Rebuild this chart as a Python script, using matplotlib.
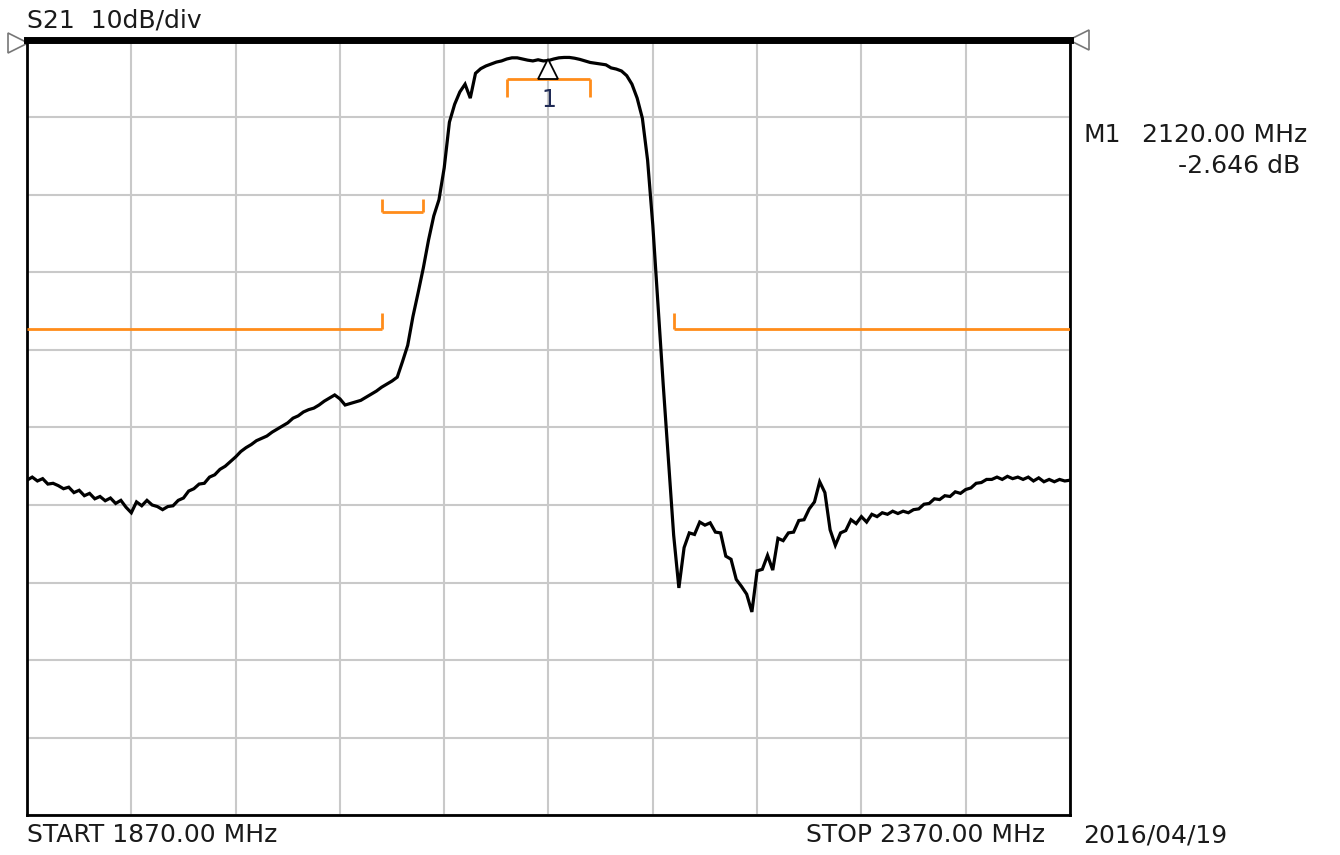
import numpy as np
import matplotlib
matplotlib.use("Agg")
import matplotlib.pyplot as plt
from matplotlib import transforms

# ---------------- data ----------------
f_start, f_stop = 1870.0, 2370.0
ref_top, db_per_div = 0.0, 10.0

freq = np.arange(1870.0, 2370.0 + 0.01, 2.5)
s21 = [
    -56.8, -56.4, -56.9, -56.6, -57.3, -57.2, -57.5, -57.9, -57.7, -58.4,    # 1870-1892.5
    -58.1, -58.8, -58.5, -59.2, -58.9, -59.45, -59.1, -59.8, -59.4, -60.3,   # 1895-1917.5
    -61.0, -59.6, -60.1, -59.4, -60.0, -60.2, -60.6, -60.2, -60.1, -59.4,    # 1920-1942.5
    -59.1, -58.2, -57.9, -57.3, -57.2, -56.4, -56.1, -55.4, -55.0, -54.4,    # 1945-1967.5
    -53.8, -53.1, -52.6, -52.2, -51.7, -51.4, -51.1, -50.6, -50.2, -49.8,    # 1970-1992.5
    -49.4, -48.8, -48.5, -48.0, -47.7, -47.5, -47.1, -46.6, -46.2, -45.8,    # 1995-2017.5
    -46.3, -47.1, -46.9, -46.7, -46.5, -46.1, -45.7, -45.3, -44.8, -44.4,    # 2020-2042.5
    -44.0, -43.5, -41.5, -39.4, -35.7, -32.6, -29.4, -25.8, -22.7, -20.6,    # 2045-2067.5
    -16.5, -10.6, -8.3, -6.7, -5.7, -7.5, -4.3, -3.7, -3.35, -3.1,           # 2070-2092.5
    -2.85, -2.7, -2.45, -2.3, -2.3, -2.45, -2.6, -2.7, -2.55, -2.7,          # 2095-2117.5
    -2.646, -2.45, -2.3, -2.25, -2.25, -2.35, -2.5, -2.7, -2.9, -3.0,        # 2120-2142.5
    -3.1, -3.2, -3.6, -3.75, -4.0, -4.6, -5.7, -7.5, -10.1, -15.5,           # 2145-2167.5
    -23.9, -34.2, -44.5, -54.2, -63.9, -70.7, -65.5, -63.6, -63.8, -62.2,    # 2170-2192.5
    -62.6, -62.3, -63.5, -63.6, -66.6, -67.0, -69.6, -70.5, -71.5, -73.8,    # 2195-2217.5
    -68.5, -68.3, -66.5, -68.4, -64.3, -64.6, -63.6, -63.5, -62.0, -61.9,    # 2220-2242.5
    -60.5, -59.6, -57.0, -58.4, -63.2, -65.2, -63.6, -63.3, -61.9, -62.4,    # 2245-2267.5
    -61.5, -62.2, -61.2, -61.5, -61.0, -61.2, -60.8, -61.1, -60.8, -61.0,    # 2270-2292.5
    -60.6, -60.5, -59.9, -59.8, -59.2, -59.3, -58.8, -58.9, -58.3, -58.5,    # 2295-2317.5
    -58.0, -57.8, -57.2, -57.1, -56.7, -56.7, -56.4, -56.7, -56.3, -56.6,    # 2320-2342.5
    -56.4, -56.7, -56.4, -56.9, -56.5, -57.0, -56.7, -57.0, -56.7, -56.9,    # 2345-2367.5
    -56.8,                                                                   # 2370
]

marker_freq = 2120.0
marker_db = -2.646

# limit lines: (f1, f2, level dB, tick end dB at f1, tick end dB at f2 or None)
lim_f1 = [1870.0, 2040.0, 2100.0, 2180.0]
lim_f2 = [2040.0, 2060.0, 2140.0, 2370.0]
lim_db = [-37.3, -22.2, -5.0, -37.3]
lim_tick_left = [None, -20.5, -7.3, -35.2]
lim_tick_right = [-35.2, -20.5, -7.3, None]

# ---------------- figure ----------------
W, H = 1340, 855
fig = plt.figure(figsize=(W / 100, H / 100), dpi=100)
fig.patch.set_facecolor("white")
ax = fig.add_axes([27 / W, 1 - 815 / H, (1070 - 27) / W, (815 - 40) / H])
ax.set_xlim(f_start, f_stop)
ax.set_ylim(ref_top - 10 * db_per_div, ref_top)
ax.set_xticks(np.linspace(f_start, f_stop, 11))
ax.set_yticks(np.linspace(ref_top - 10 * db_per_div, ref_top, 11))
ax.tick_params(length=0, labelbottom=False, labelleft=False)
ax.grid(True, color="#c9c9c9", linewidth=1.5)
ax.set_axisbelow(True)
for side in ["left", "right", "bottom"]:
    ax.spines[side].set_linewidth(2.0)
    ax.spines[side].set_color("black")
ax.spines["top"].set_linewidth(5.0)
ax.spines["top"].set_color("black")

orange = "#ff8c1a"
for f1, f2, lv, tl, tr in zip(lim_f1, lim_f2, lim_db, lim_tick_left, lim_tick_right):
    ax.plot([f1, f2], [lv, lv], color=orange, lw=2.0, solid_capstyle="butt", zorder=3)
    if tl is not None:
        ax.plot([f1, f1], [lv, tl], color=orange, lw=2.0, solid_capstyle="butt", zorder=3)
    if tr is not None:
        ax.plot([f2, f2], [lv, tr], color=orange, lw=2.0, solid_capstyle="butt", zorder=3)

ax.plot(freq, s21, color="black", lw=2.3, zorder=4, solid_joinstyle="miter")

# marker triangle, just below the trace point
tri_tr = transforms.offset_copy(ax.transData, fig=fig, x=0, y=-8, units="dots")
ax.plot([marker_freq], [marker_db], marker="^", markersize=14, markerfacecolor="white",
        markeredgecolor="black", markeredgewidth=1.3, transform=tri_tr, zorder=5)
lbl_tr = transforms.offset_copy(ax.transData, fig=fig, x=0, y=-39, units="dots")
ax.text(marker_freq, marker_db, "1", transform=lbl_tr, ha="center", va="center",
        fontsize=17, color="#1f2a55", zorder=5)

# reference level triangles at edges
ax.plot([-0.009], [0.996], marker=">", markersize=15, markerfacecolor="white",
        markeredgecolor="#777777", markeredgewidth=1.2, transform=ax.transAxes, clip_on=False)
ax.plot([1.0085], [1.0], marker="<", markersize=15, markerfacecolor="white",
        markeredgecolor="#777777", markeredgewidth=1.2, transform=ax.transAxes, clip_on=False)

txt = dict(fontsize=18, color="#1a1a1a", family="DejaVu Sans")
fig.text(27 / W, 1 - 21 / H, "S21  10dB/div", ha="left", va="center", **txt)
fig.text(1083 / W, 1 - 135 / H, "M1", ha="left", va="center", **txt)
fig.text(1307 / W, 1 - 135 / H, "2120.00 MHz", ha="right", va="center", **txt)
fig.text(1300 / W, 1 - 166 / H, "-2.646 dB", ha="right", va="center", **txt)
fig.text(27 / W, 1 - 835 / H, "START 1870.00 MHz", ha="left", va="center", **txt)
fig.text(1045 / W, 1 - 835 / H, "STOP 2370.00 MHz", ha="right", va="center", **txt)
fig.text(1083 / W, 1 - 835 / H, "2016/04/19", ha="left", va="center", **txt)

fig.savefig("out.png", dpi=100, facecolor="white")
